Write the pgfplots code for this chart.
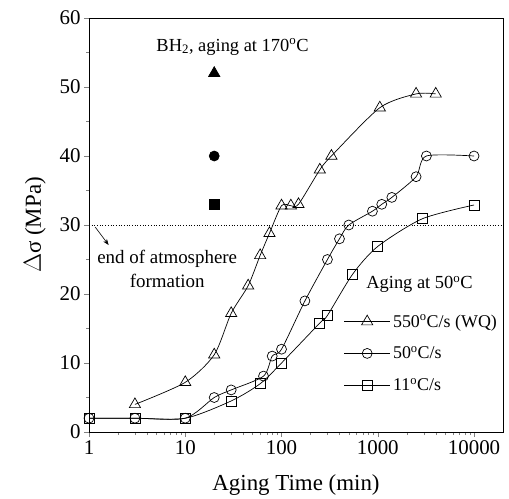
\documentclass[border=0pt]{standalone}
\usepackage{pgfplots}
\pgfplotsset{compat=1.18}
\usepackage{fontspec}
\setmainfont{Liberation Serif}
\usetikzlibrary{arrows.meta,calc}

\begin{document}
\begin{tikzpicture}
\begin{axis}[
    name=ax,
    scale only axis,
    width=414bp, height=414bp,
    xmode=log,
    xmin=1, xmax=20000,
    ymin=0, ymax=60,
    xtick={1,10,100,1000,10000},
    xticklabels={1,10,100,1000,10000},
    ytick={0,10,20,30,40,50,60},
    minor ytick={5,15,25,35,45,55},
    tick align=outside,
    xtick pos=left, ytick pos=left,
    major tick length=5bp, minor tick length=3bp,
    /pgf/number format/assume math mode=true,
    tick label style={font=\fontsize{21}{24}\selectfont},
    label style={font=\fontsize{23}{26}\selectfont},
    xlabel={Aging Time (min)},
    ylabel={$\Delta$σ (MPa)},
    ylabel style={yshift=7bp},
    xlabel style={yshift=-13bp},
    every axis plot/.append style={black, line width=0.7pt},
    legend style={draw=none, fill=none, at={(axis cs:442,17.4)}, anchor=north west,
        font=\fontsize{18}{21}\selectfont, row sep=13bp, inner sep=0pt,
        nodes={inner sep=2.5bp}},
    legend cell align=left,
    legend image code/.code={%
        \draw[mark repeat=2, mark phase=2, #1] plot coordinates {(0bp,0bp) (23bp,0bp) (46bp,0bp)};},
]
% dotted threshold
\addplot[dotted, line width=0.8pt, forget plot] coordinates {(1,30) (20000,30)};

% 550 C/s (WQ)
\addplot[smooth, tension=0.45, mark=triangle, mark size=6.5pt, mark options={fill=white, solid}]
  coordinates {(3,4) (10,7.2) (20,11.2) (30,17.2) (45,21.2) (60,25.6) (75,28.8)
               (100,32.8) (125,32.8) (150,33) (250,38) (330,40) (1050,47) (2500,49) (4000,49)};
\addlegendentry{550\textsuperscript{o}C/s (WQ)}

% 50 C/s
\addplot[smooth, tension=0.45, mark=o, mark size=5pt, mark options={fill=white, solid}]
  coordinates {(1,2) (3,2) (10,2) (20,5) (30,6.1) (65,8.1) (80,11) (100,12) (175,19)
               (300,25) (400,28) (500,30) (880,32) (1100,33) (1400,34) (2500,37)
               (3200,40) (10000,40)};
\addlegendentry{50\textsuperscript{o}C/s}

% 11 C/s
\addplot[smooth, tension=0.45, mark=square, mark size=5pt, mark options={fill=white, solid}]
  coordinates {(1,2) (3,2) (10,2) (30,4.5) (60,7) (100,10) (250,15.8) (300,16.9)
               (550,22.9) (1000,26.9) (2900,30.9) (10000,32.9)};
\addlegendentry{11\textsuperscript{o}C/s}

% BH2, aging at 170 C
\addplot[only marks, mark=triangle*, mark size=6.5pt, forget plot] coordinates {(20,52)};
\addplot[only marks, mark=*, mark size=5pt, forget plot] coordinates {(20,40)};
\addplot[only marks, mark=square*, mark size=5pt, forget plot] coordinates {(20,33)};

\node[font=\fontsize{18.5}{21}\selectfont] at (axis cs:31,55.8) {BH\textsubscript{2}, aging at 170\textsuperscript{o}C};
\node[font=\fontsize{18.5}{21}\selectfont, anchor=west] at (axis cs:700,21.4) {Aging at 50\textsuperscript{o}C};
\node[font=\fontsize{19}{24}\selectfont, align=center] at (axis cs:6.5,23.6) {end of atmosphere\\formation};
\draw[-{Stealth[length=6bp]}, line width=0.6pt] (axis cs:1.16,29.7) -- (axis cs:1.6,27.1);
\end{axis}
\pgfresetboundingbox
\path[use as bounding box] ($(ax.south west)+(-89bp,-66bp)$) rectangle ($(ax.north east)+(6bp,18bp)$);
\end{tikzpicture}
\end{document}
